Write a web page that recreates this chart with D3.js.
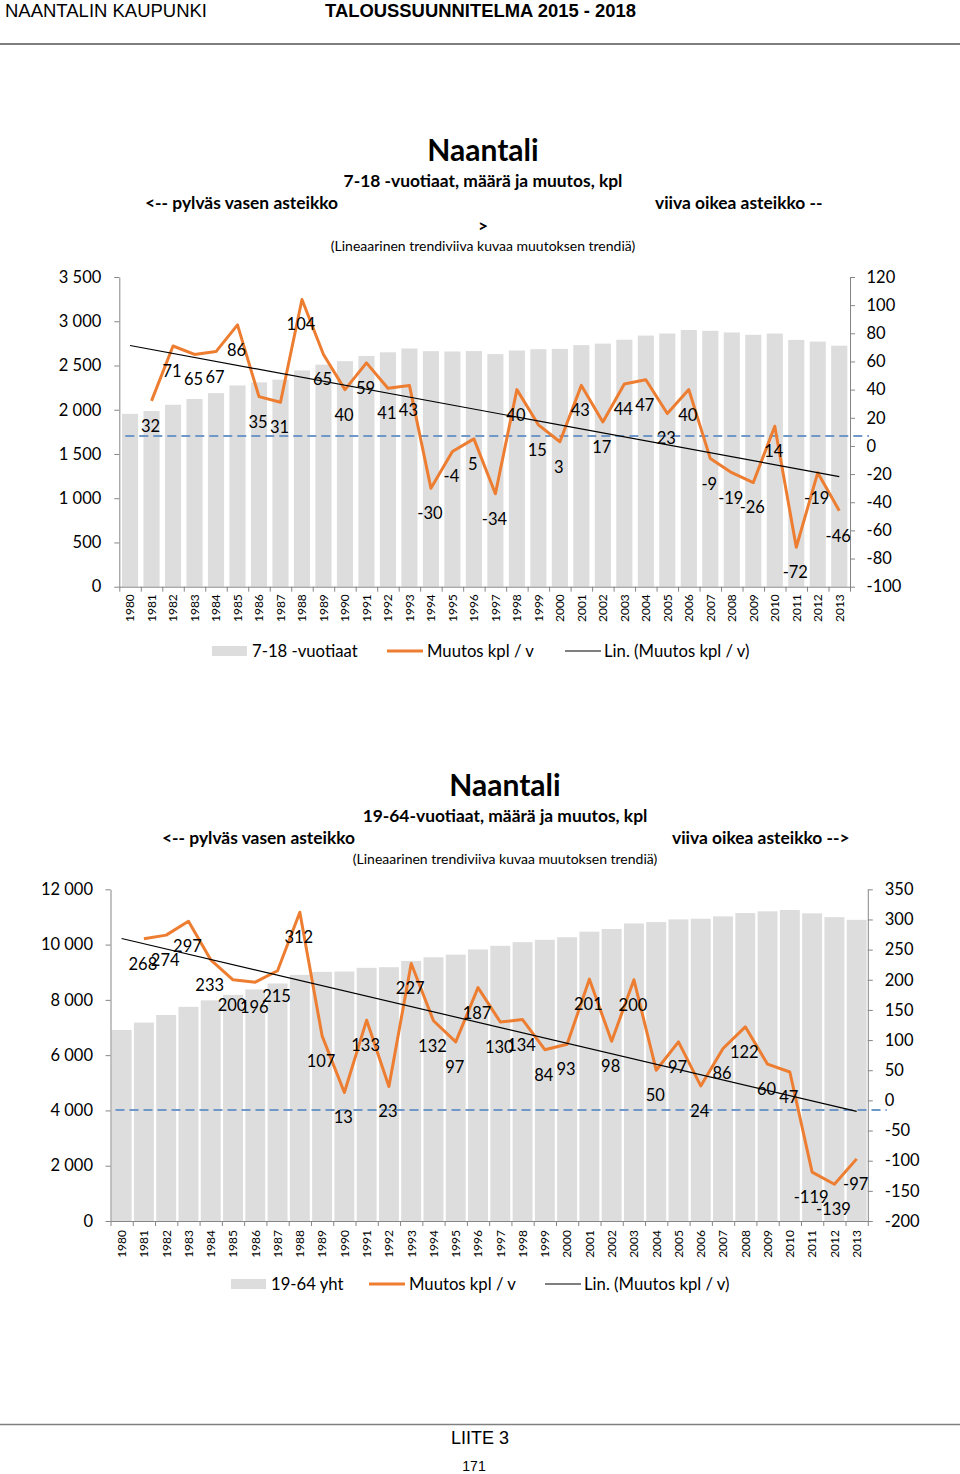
<!DOCTYPE html>
<html><head><meta charset="utf-8">
<script src="https://cdn.jsdelivr.net/npm/d3@7"></script>
<style>
body{margin:0;background:#fff}
svg{display:block}
text{font-family:Lato,"Open Sans",sans-serif;fill:#000}
</style>
</head><body>
<svg id="c" width="960" height="1474"></svg>
<script>
// ---------- DATA ----------
const years = ["1980","1981","1982","1983","1984","1985","1986","1987","1988","1989",
  "1990","1991","1992","1993","1994","1995","1996","1997","1998","1999",
  "2000","2001","2002","2003","2004","2005","2006","2007","2008","2009",
  "2010","2011","2012","2013"];

// 7-18 -vuotiaat (bars, left axis)
const youthCount = [1953,1985,2056,2121,2188,2274,2309,2340,2444,2509,
  2549,2608,2649,2692,2662,2658,2663,2629,2669,2684,
  2687,2730,2747,2791,2838,2861,2901,2892,2873,2847,
  2861,2789,2770,2724];
// Muutos kpl / v (line, right axis)
const youthChange = [null,32,71,65,67,86,35,31,104,65,
  40,59,41,43,-30,-4,5,-34,40,15,
  3,43,17,44,47,23,40,-9,-19,-26,
  14,-72,-19,-46];
const youthLeftTicks = [0,500,1000,1500,2000,2500,3000,3500];
const youthRightTicks = [-100,-80,-60,-40,-20,0,20,40,60,80,100,120];
const youthRefLine = 7; // dashed reference line (right-axis units)

// 19-64 yht (bars, left axis)
const adultCount = [6910,7178,7452,7749,7982,8182,8378,8593,8905,9012,
  9025,9158,9181,9408,9540,9637,9824,9954,10088,10172,
  10265,10466,10564,10764,10814,10911,10935,11021,11143,11203,
  11250,11131,10992,10895];
const adultChange = [null,268,274,297,233,200,196,215,312,107,
  13,133,23,227,132,97,187,130,134,84,
  93,201,98,200,50,97,24,86,122,60,
  47,-119,-139,-97];
const adultLeftTicks = [0,2000,4000,6000,8000,10000,12000];
const adultRightTicks = [-200,-150,-100,-50,0,50,100,150,200,250,300,350];
const adultRefLine = -16;

// ---------- DRAWING ----------
const svg = d3.select("#c");
const loc = d3.formatLocale({decimal:",", thousands:"\u00a0", grouping:[3], currency:["",""], minus:"-"});
const fmt = loc.format(",d");
const AX = "#868686", BAR = "#dddddd", ORANGE = "#ED7D31", REF = "#6f97c8";

// header
svg.append("text").attr("x",5).attr("y",17)
  .style("font-family","'Liberation Sans Narrow','Arial Narrow',Arial,sans-serif")
  .attr("font-size",18).attr("textLength",202).attr("lengthAdjust","spacingAndGlyphs").text("NAANTALIN KAUPUNKI");
svg.append("text").attr("x",325).attr("y",17)
  .style("font-family","'Liberation Sans Narrow','Arial Narrow',Arial,sans-serif").attr("font-weight","bold")
  .attr("font-size",18).attr("textLength",311).attr("lengthAdjust","spacingAndGlyphs").text("TALOUSSUUNNITELMA 2015 - 2018");
svg.append("line").attr("x1",0).attr("x2",960).attr("y1",44).attr("y2",44).attr("stroke","#7f7f7f").attr("stroke-width",2);

// footer
svg.append("line").attr("x1",0).attr("x2",960).attr("y1",1424.5).attr("y2",1424.5).attr("stroke","#7f7f7f").attr("stroke-width",1.5);
svg.append("text").attr("x",480).attr("y",1444).attr("text-anchor","middle")
  .style("font-family","'Liberation Sans',Arial,sans-serif").attr("font-size",18).text("LIITE 3");
svg.append("text").attr("x",474).attr("y",1471).attr("text-anchor","middle")
  .style("font-family","'Liberation Sans',Arial,sans-serif").attr("font-size",14).text("171");

function drawChart(o){
  const g = svg.append("g");
  const x = d3.scaleBand().domain(o.cats).range([o.left,o.right]).padding(0);
  const step = x.step();
  const cx = d => x(d) + step/2;
  const yL = d3.scaleLinear().domain(d3.extent(o.leftTicks)).range([o.bottom,o.top]);
  const yR = d3.scaleLinear().domain(d3.extent(o.rightTicks)).range([o.bottom,o.top]);

  // titles
  g.append("text").attr("x",o.titleX).attr("y",o.titleY).attr("text-anchor","middle")
    .attr("font-weight","bold").attr("font-size",30).text("Naantali");
  g.append("text").attr("x",o.titleX).attr("y",o.titleY+26).attr("text-anchor","middle")
    .attr("font-weight","bold").attr("font-size",o.subSize).text(o.subtitle);
  g.append("text").attr("x",o.noteLX).attr("y",o.titleY+48)
    .attr("font-weight","bold").attr("font-size",o.subSize).text("<-- pylväs vasen asteikko");
  g.append("text").attr("x",o.noteRX).attr("y",o.titleY+48)
    .attr("font-weight","bold").attr("font-size",o.subSize).text(o.noteR);
  if (o.noteR2) g.append("text").attr("x",o.titleX).attr("y",o.titleY+71).attr("text-anchor","middle")
    .attr("font-weight","bold").attr("font-size",o.subSize).text(o.noteR2);
  g.append("text").attr("x",o.titleX).attr("y",o.trendNoteY).attr("text-anchor","middle")
    .attr("font-size",14).text("(Lineaarinen trendiviiva kuvaa muutoksen trendiä)");

  // bars
  const bw = step*o.barRatio;
  g.append("g").selectAll("rect").data(o.cats).join("rect")
    .attr("x",d=>x(d)+(step-bw)/2).attr("width",bw)
    .attr("y",(d,i)=>yL(o.bars[i])).attr("height",(d,i)=>o.bottom-yL(o.bars[i]))
    .attr("fill",BAR);

  // reference dashed line
  g.append("line").attr("x1",o.left+o.refX1).attr("x2",o.right+o.refX2)
    .attr("y1",yR(o.ref)).attr("y2",yR(o.ref))
    .attr("stroke",REF).attr("stroke-width",2).attr("stroke-dasharray","9,5");

  // axes
  const styleAxis = sel => {
    sel.selectAll("path.domain").attr("stroke",AX).attr("stroke-width",1);
    sel.selectAll(".tick line").attr("stroke",AX);
    sel.selectAll("text").attr("font-size",16.5).attr("fill","#000").style("font-family","Lato,sans-serif");
  };
  g.append("g").attr("transform",`translate(${o.left},0)`)
    .call(d3.axisLeft(yL).tickValues(o.leftTicks).tickFormat(fmt).tickSize(5).tickSizeOuter(0).tickPadding(o.padL))
    .call(styleAxis);
  g.append("g").attr("transform",`translate(${o.right},0)`)
    .call(d3.axisRight(yR).tickValues(o.rightTicks).tickFormat(fmt).tickSize(5).tickSizeOuter(0).tickPadding(o.padR))
    .call(styleAxis);
  // category axis: ticks between categories
  const xi = d3.scaleLinear().domain([0,o.cats.length]).range([o.left,o.right]);
  g.append("g").attr("transform",`translate(0,${o.bottom})`)
    .call(d3.axisBottom(xi).tickValues(d3.range(o.cats.length+1)).tickFormat("").tickSize(5).tickSizeOuter(0))
    .call(styleAxis);
  g.append("g").selectAll("text").data(o.cats).join("text")
    .attr("transform",d=>`translate(${cx(d)},${o.bottom+o.catOff}) rotate(-90)`)
    .attr("text-anchor","end").attr("dy","0.36em").attr("font-size",12).text(d=>d);

  // line series
  const pts = o.cats.map((d,i)=>({d, v:o.line[i]}));
  g.append("path").datum(pts)
    .attr("d",d3.line().defined(p=>p.v!=null).x(p=>cx(p.d)).y(p=>yR(p.v)))
    .attr("fill","none").attr("stroke",ORANGE).attr("stroke-width",3).attr("stroke-linejoin","round");

  // linear trend (least squares on category index)
  const valid = pts.map((p,i)=>({i, v:p.v})).filter(p=>p.v!=null);
  const mx = d3.mean(valid,p=>p.i), my = d3.mean(valid,p=>p.v);
  const slope = d3.sum(valid,p=>(p.i-mx)*(p.v-my))/d3.sum(valid,p=>(p.i-mx)**2);
  const tr = i => my + slope*(i-mx);
  const n = o.cats.length;
  g.append("line").attr("x1",cx(o.cats[0])).attr("y1",yR(tr(0)))
    .attr("x2",cx(o.cats[n-1])).attr("y2",yR(tr(n-1)))
    .attr("stroke","#000").attr("stroke-width",1.2);

  // data labels (below points)
  g.append("g").selectAll("text").data(pts.filter(p=>p.v!=null)).join("text")
    .attr("x",p=>cx(p.d)-1).attr("y",p=>yR(p.v)+25).attr("dy","0.36em")
    .attr("text-anchor","middle").attr("font-size",16.5).text(p=>fmt(p.v));

  // legend
  const ly = o.legendY, L = o.legend;
  g.append("rect").attr("x",L[0]).attr("y",ly-5).attr("width",35).attr("height",10).attr("fill",BAR);
  g.append("text").attr("x",L[0]+40).attr("y",ly).attr("dy","0.35em").attr("font-size",16.7).text(o.barName);
  g.append("line").attr("x1",L[1]).attr("x2",L[1]+36).attr("y1",ly).attr("y2",ly).attr("stroke",ORANGE).attr("stroke-width",3);
  g.append("text").attr("x",L[1]+40).attr("y",ly).attr("dy","0.35em").attr("font-size",16.7).text("Muutos kpl / v");
  g.append("line").attr("x1",L[2]).attr("x2",L[2]+36).attr("y1",ly).attr("y2",ly).attr("stroke","#000").attr("stroke-width",1.2);
  g.append("text").attr("x",L[2]+39).attr("y",ly).attr("dy","0.35em").attr("font-size",16.7).text("Lin. (Muutos kpl / v)");
}

drawChart({
  cats: years, bars: youthCount, line: youthChange,
  leftTicks: youthLeftTicks, rightTicks: youthRightTicks, ref: youthRefLine,
  left: 119.3, right: 850, top: 277, bottom: 586.7, barRatio: 0.75,
  padL: 13, padR: 11.5, catOff: 7.5, refX1: 6, refX2: 19,
  titleX: 483, titleY: 161, subSize: 17.4, subtitle: "7-18 -vuotiaat, määrä ja muutos, kpl",
  noteLX: 145, noteRX: 655, noteR: "viiva oikea asteikko --", noteR2: ">", trendNoteY: 251,
  legendY: 651, legend: [212, 387, 565], barName: "7-18 -vuotiaat"
});

drawChart({
  cats: years, bars: adultCount, line: adultChange,
  leftTicks: adultLeftTicks, rightTicks: adultRightTicks, ref: adultRefLine,
  left: 110.5, right: 867.8, top: 889.3, bottom: 1221, barRatio: 0.895,
  padL: 12.5, padR: 12, catOff: 9, refX1: 5, refX2: 19,
  titleX: 505, titleY: 796, subSize: 17.4, subtitle: "19-64-vuotiaat, määrä ja muutos, kpl",
  noteLX: 162, noteRX: 672, noteR: "viiva oikea asteikko -->", noteR2: null, trendNoteY: 864,
  legendY: 1284, legend: [231, 369, 545], barName: "19-64 yht"
});
</script>
</body></html>
